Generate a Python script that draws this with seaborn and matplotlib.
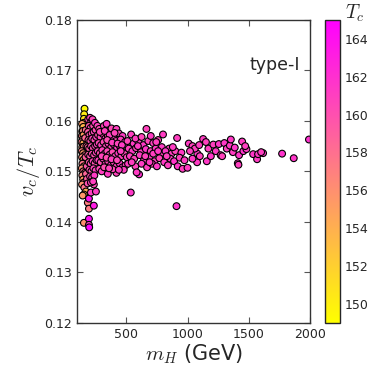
import numpy as np
import matplotlib
matplotlib.use("Agg")
import matplotlib.pyplot as plt
import seaborn as sns

# points: (m_H [GeV], v_c/T_c, T_c)
points = [
    # left column, low m_H
    (160, .1624, 149.3), (157, .1613, 150.2), (155, .1604, 151.0), (153, .1596, 152.4),
    (140, .1594, 155.2), (150, .1588, 153.6), (141, .1579, 154.8), (147, .1580, 156.5),
    (138, .1570, 157.2), (152, .1572, 155.0), (144, .1563, 156.8), (136, .1558, 157.5),
    (150, .1556, 154.5), (182, .1559, 154.0), (142, .1548, 155.8), (155, .1549, 156.2),
    (171, .1540, 154.2), (137, .1540, 157.0), (148, .1536, 155.5), (160, .1532, 157.6),
    (140, .1528, 156.5), (152, .1523, 154.8), (166, .1520, 156.6), (143, .1515, 157.8),
    (156, .1510, 155.4), (138, .1506, 156.2), (150, .1500, 157.5), (162, .1497, 158.0),
    (142, .1492, 156.8), (149, .1484, 155.0), (155, .1478, 157.2), (140, .1474, 156.0),
    (158, .1468, 157.8), (171, .1460, 154.0), (155, .1454, 153.8), (145, .1452, 155.5),
    (187, .1438, 157.0), (196, .1426, 157.2), (155, .1398, 156.0), (196, .1446, 164.0),
    (236, .1432, 163.2), (212, .1458, 161.0), (253, .1460, 161.2), (236, .1474, 160.5),
    (196, .1406, 164.3), (196, .1394, 161.5), (198, .1389, 164.8), (165, .1566, 158.5),
    (170, .1582, 158.0), (175, .1550, 158.8), (168, .1528, 159.0), (178, .1510, 159.5),
    (172, .1495, 158.6), (180, .1485, 159.2), (185, .1476, 160.0),
    # 175-260 GeV
    (190, .1603, 160.5), (205, .1606, 161.0), (215, .1598, 160.2), (225, .1603, 160.8),
    (195, .1590, 159.8), (210, .1586, 160.4), (230, .1590, 160.0), (245, .1596, 161.2),
    (188, .1578, 159.5), (200, .1572, 160.2), (218, .1575, 159.9), (235, .1578, 160.6),
    (250, .1582, 160.3), (192, .1562, 159.4), (207, .1560, 160.0), (222, .1565, 160.7),
    (240, .1562, 160.2), (255, .1568, 161.0), (186, .1548, 158.8), (198, .1545, 159.6),
    (213, .1550, 160.3), (228, .1546, 159.9), (246, .1550, 160.5), (260, .1553, 160.9),
    (190, .1533, 159.3), (205, .1530, 160.0), (220, .1535, 160.4), (238, .1532, 160.1),
    (252, .1537, 160.7), (195, .1518, 159.7), (210, .1515, 160.2), (226, .1520, 160.6),
    (243, .1516, 160.0), (258, .1522, 161.0), (200, .1503, 160.1), (216, .1500, 159.8),
    (232, .1506, 160.5), (250, .1502, 160.9), (205, .1490, 160.3), (222, .1488, 160.6),
    (240, .1492, 161.2), (212, .1478, 160.8), (230, .1480, 161.0),
    # 260-500 GeV
    (265, .1590, 160.8), (280, .1584, 160.2), (300, .1578, 161.0), (318, .1590, 160.5),
    (340, .1594, 161.3), (360, .1580, 160.7), (380, .1585, 160.4), (420, .1584, 161.0),
    (440, .1575, 160.6), (470, .1570, 161.2), (270, .1572, 160.0), (290, .1568, 160.6),
    (310, .1574, 160.3), (330, .1565, 160.9), (350, .1570, 160.1), (372, .1563, 160.8),
    (395, .1568, 161.1), (415, .1560, 160.4), (455, .1563, 160.9), (490, .1558, 161.4),
    (275, .1556, 160.4), (295, .1552, 160.9), (315, .1558, 160.2), (335, .1550, 160.7),
    (355, .1555, 161.0), (378, .1548, 160.3), (400, .1553, 160.8), (425, .1546, 161.2),
    (448, .1550, 160.5), (475, .1545, 161.0), (498, .1550, 160.7), (268, .1540, 160.6),
    (285, .1536, 160.1), (305, .1542, 160.8), (325, .1535, 161.1), (345, .1540, 160.4),
    (365, .1533, 160.9), (388, .1538, 160.2), (410, .1530, 160.7), (435, .1536, 161.3),
    (460, .1530, 160.8), (485, .1535, 160.4), (272, .1522, 160.9), (292, .1518, 160.3),
    (312, .1525, 160.6), (332, .1515, 161.0), (352, .1520, 160.5), (375, .1512, 161.2),
    (398, .1518, 160.6), (420, .1510, 160.9), (445, .1516, 161.4), (470, .1508, 160.7),
    (495, .1512, 161.0), (280, .1505, 160.5), (300, .1500, 161.0), (350, .1495, 161.3),
    (420, .1497, 160.8), (480, .1503, 161.1), (320, .1508, 160.2), (390, .1504, 160.6),
    (537, .1458, 161.5), (605, .1494, 162.0),
    (285, .1578, 160.4), (325, .1580, 160.9), (365, .1572, 161.1), (405, .1576, 160.6),
    (345, .1562, 160.3), (385, .1557, 161.0), (430, .1555, 160.7), (465, .1552, 161.3),
    (300, .1530, 160.7), (340, .1527, 160.2), (380, .1524, 161.0), (425, .1522, 160.5),
    (455, .1540, 161.1), (505, .1528, 160.9), (360, .1506, 160.8), (440, .1503, 161.2),
    # 500-1000 GeV
    (540, .1573, 161.0), (665, .1584, 160.8), (800, .1573, 161.2), (915, .1566, 161.0),
    (510, .1560, 160.6), (560, .1555, 161.2), (600, .1558, 160.9), (640, .1552, 161.4),
    (680, .1560, 160.7), (720, .1556, 161.1), (760, .1562, 160.5), (790, .1548, 161.3),
    (850, .1545, 161.0), (520, .1545, 160.8), (550, .1540, 161.3), (580, .1546, 160.6),
    (620, .1538, 161.0), (660, .1544, 161.5), (700, .1540, 160.9), (740, .1545, 161.2),
    (780, .1535, 160.8), (820, .1540, 161.4), (870, .1535, 161.1), (900, .1540, 160.7),
    (950, .1537, 161.3), (530, .1530, 161.0), (565, .1525, 160.7), (610, .1532, 161.2),
    (645, .1522, 160.9), (690, .1528, 161.4), (730, .1520, 161.0), (770, .1526, 160.6),
    (810, .1518, 161.3), (860, .1525, 161.0), (890, .1520, 161.5), (935, .1527, 160.9),
    (975, .1522, 161.2), (515, .1515, 161.1), (575, .1510, 160.8), (625, .1515, 161.3),
    (670, .1508, 161.0), (710, .1515, 160.7), (750, .1510, 161.4), (840, .1512, 161.1),
    (920, .1510, 161.6), (960, .1505, 161.0), (1000, .1507, 161.3), (585, .1498, 161.2),
    (910, .1431, 161.8),
    (575, .1565, 161.0), (625, .1568, 160.7), (700, .1570, 161.3), (745, .1558, 160.9),
    (595, .1550, 161.2), (655, .1530, 160.8), (720, .1535, 161.1), (760, .1540, 161.4),
    (830, .1530, 160.9), (880, .1548, 161.2), (545, .1518, 161.0), (690, .1518, 161.3),
    # 1000-2000 GeV
    (1010, .1555, 161.2), (1040, .1550, 160.8), (1080, .1535, 161.4), (1060, .1545, 161.0),
    (1078, .1518, 161.3), (1100, .1530, 160.9), (1127, .1564, 161.2), (1150, .1558, 160.9),
    (1157, .1520, 161.4), (1170, .1545, 161.1), (1190, .1530, 161.6), (1210, .1553, 161.0),
    (1230, .1540, 161.3), (1255, .1554, 161.5), (1270, .1532, 161.1), (1282, .1530, 160.8),
    (1300, .1556, 161.4), (1320, .1545, 161.0), (1345, .1551, 161.2), (1353, .1563, 161.4),
    (1370, .1538, 161.1), (1385, .1547, 161.6), (1410, .1516, 161.3), (1415, .1513, 161.0),
    (1420, .1532, 161.5), (1445, .1559, 161.2), (1455, .1540, 161.7), (1480, .1544, 161.3),
    (1470, .1550, 161.0), (1535, .1534, 161.5), (1567, .1524, 161.2), (1575, .1534, 161.4),
    (1616, .1536, 161.6), (1600, .1538, 161.1), (1771, .1535, 161.8), (1866, .1526, 161.6),
    (1990, .1563, 161.9), (1020, .1540, 161.0), (1095, .1552, 161.2), (1040, .1525, 161.4),
]
m_H = [p[0] for p in points]
vc_Tc = [p[1] for p in points]
T_c = [p[2] for p in points]

x_ticks = [500, 1000, 1500, 2000]
y_ticks = [0.12, 0.13, 0.14, 0.15, 0.16, 0.17, 0.18]
cbar_ticks = [150, 152, 154, 156, 158, 160, 162, 164]

sns.set_style("ticks")
plt.rcParams["font.family"] = ["DejaVu Sans"]
plt.rcParams["mathtext.fontset"] = "cm"
plt.rcParams["xtick.direction"] = "in"
plt.rcParams["ytick.direction"] = "in"
plt.rcParams["xtick.top"] = True
plt.rcParams["ytick.right"] = True

fig = plt.figure(figsize=(3.82, 3.82), dpi=100)
ax = fig.add_axes([0.202, 0.155, 0.610, 0.793])
cax = fig.add_axes([0.851, 0.155, 0.039, 0.793])

sns.scatterplot(x=m_H, y=vc_Tc, hue=T_c, palette="spring_r", hue_norm=(149, 165),
                s=24, edgecolor="black", linewidth=0.8, legend=False, ax=ax)

ax.set_xlim(100, 2000)
ax.set_ylim(0.12, 0.18)
ax.set_xticks(x_ticks)
ax.set_yticks(y_ticks)
ax.set_yticklabels([f"{v:.2f}" for v in y_ticks])
ax.tick_params(labelsize=9, length=4, width=0.8, color="#555555")
for sp in ax.spines.values():
    sp.set_linewidth(1.0)
    sp.set_color("#333333")
ax.set_xlabel("$m_H$ (GeV)", fontsize=15, labelpad=1)
ax.set_ylabel("$v_c/T_c$", fontsize=16, labelpad=2)
ax.text(0.955, 0.85, "type-I", transform=ax.transAxes, ha="right", va="center", fontsize=12.5)

sm = matplotlib.cm.ScalarMappable(norm=matplotlib.colors.Normalize(149, 165), cmap="spring_r")
cb = fig.colorbar(sm, cax=cax)
cb.set_ticks(cbar_ticks)
cb.ax.tick_params(labelsize=9, direction="in", length=4, width=0.8)
cb.outline.set_linewidth(1.0)
fig.text(0.928, 0.965, "$T_c$", fontsize=14, ha="center", va="center")

fig.savefig("out.png", dpi=100)
